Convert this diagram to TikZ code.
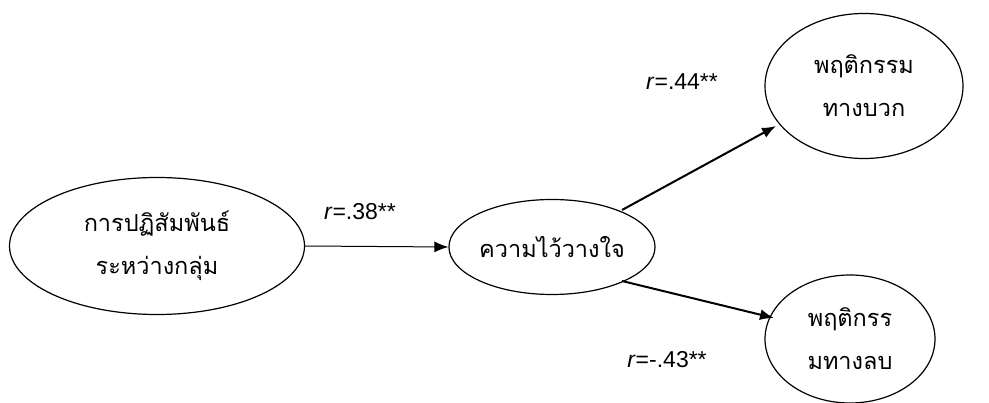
\documentclass[tikz,border=0pt]{standalone}
\usepackage{fontspec}
\setmainfont{Liberation Sans}
\newfontfamily\thaifont[Script=Thai]{Loma}
\usetikzlibrary{shapes.geometric,arrows.meta}
\begin{document}
\begin{tikzpicture}[x=1pt,y=-1pt,
  var/.style={draw,ellipse,line width=1.2pt,inner sep=0pt,align=center,font=\thaifont\fontsize{23.5}{43}\selectfont},
  tip/.style={-{Latex[length=14pt,width=11pt]}},
  lab/.style={font=\fontsize{23}{26}\selectfont}]
\useasboundingbox (0,0) rectangle (989,403);
\node[var,minimum width=295pt,minimum height=137pt] (a) at (157,246) {การปฏิสัมพันธ์\\ระหว่างกลุ่ม};
\node[var,minimum width=200pt,minimum height=95pt] (b) at (552,247) {ความไว้วางใจ};
\node[var,minimum width=198pt,minimum height=145pt] (c) at (864,86) {พฤติกรรม\\ทางบวก};
\node[var,minimum width=170pt,minimum height=128pt] (d) at (850,339) {พฤติกรร\\มทางลบ};
\coordinate (bc) at (622,210);
\coordinate (ce) at (776,126);
\coordinate (bd) at (622,281);
\coordinate (de) at (774,318);
\draw[tip,line width=1pt] (a.east) -- (b.west);
\draw[tip,line width=2pt] (bc) -- (ce);
\draw[tip,line width=2pt] (bd) -- (de);
\node[lab] (l1) at (360,212) {\textit{r}=.38**};
\node[lab] (l2) at (682,82) {\textit{r}=.44**};
\node[lab] (l3) at (667,360) {\textit{r}=-.43**};
\end{tikzpicture}
\end{document}
